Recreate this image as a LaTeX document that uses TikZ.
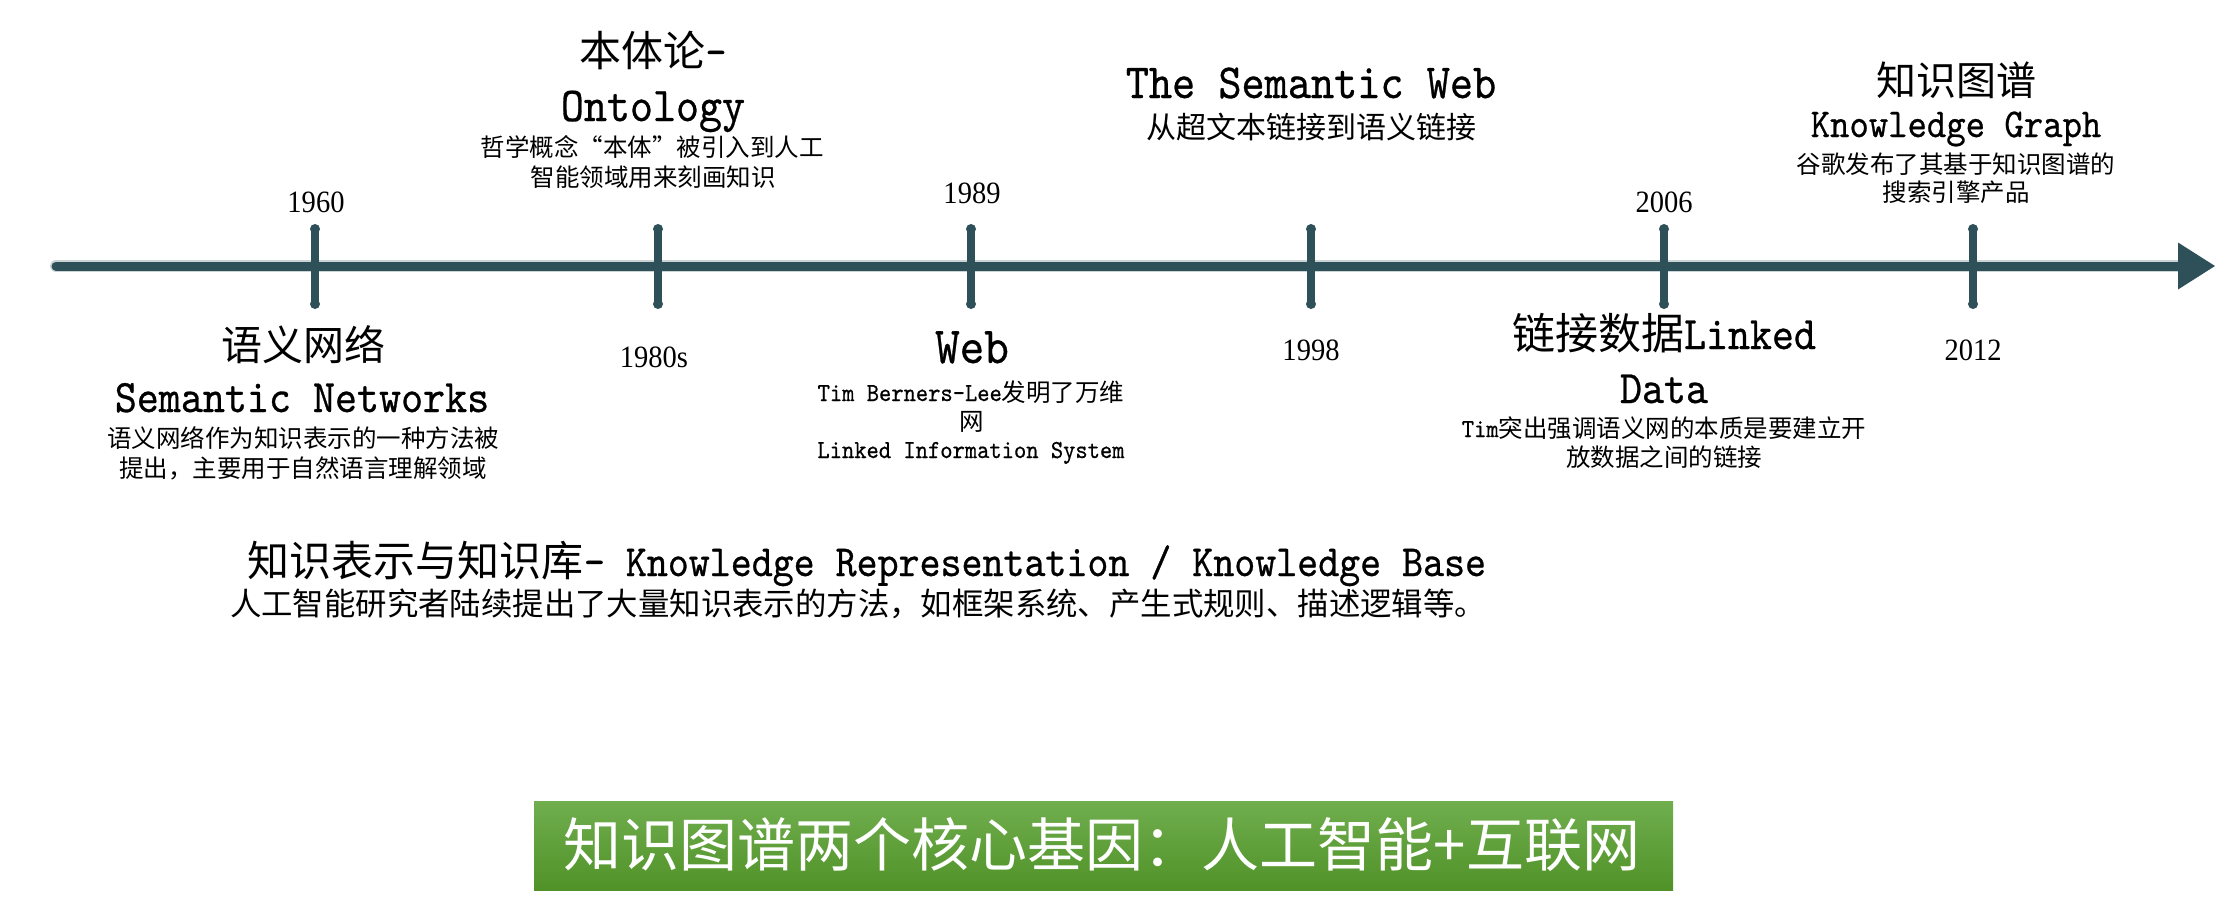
\documentclass[tikz,border=0pt]{standalone}
\usepackage{fontspec}
\newfontfamily\cjk{Noto Sans CJK SC}
\newfontfamily\lat[FakeStretch=0.9,FakeBold=0.6]{lmmono10-regular.otf}
\newfontfamily\yrf[FakeStretch=0.92]{Liberation Serif}
\newcommand\fsz[1]{\fontsize{#1pt}{#1pt}\selectfont}
\definecolor{tl}{RGB}{46,80,89}
\definecolor{gtop}{RGB}{112,174,78}
\definecolor{gbot}{RGB}{80,146,40}
\begin{document}
\begin{tikzpicture}[x=1pt,y=-1pt,
  lbl/.style={anchor=base,inner sep=0pt,outer sep=0pt,text=black},
  yr/.style={lbl,font=\yrf\fsz{31}},
  tick/.style={draw=tl,line width=8pt,line cap=round},
  knob/.style={fill=tl},
  axis/.style={draw=tl,line width=9pt,line cap=round},
  axissoft/.style={draw=tl,line width=12pt,line cap=round,opacity=0.25},
  gbox/.style={inner sep=0pt,minimum width=1139pt,minimum height=89pt,top color=gtop,bottom color=gbot,draw=none}]
\useasboundingbox (0,0) rectangle (2230,906);
% axis
\coordinate (tlstart) at (56,266);
\coordinate (tlbase) at (2178,266);
\coordinate (tlend) at (2215,266);
\draw[axissoft] (tlstart) -- (tlbase);
\draw[axis] (tlstart) -- (tlbase);
\fill[tl] (tlend) -- ([yshift=-23.5pt]tlbase) -- ([yshift=23.5pt]tlbase) -- cycle;
% ticks
\foreach \n/\x in {a/315,b/658,c/971,d/1311,e/1664,f/1973}{
  \coordinate (\n top) at (\x,229);
  \coordinate (\n bot) at (\x,304);
  \draw[tick] (\n top) -- (\n bot);
  \fill[knob] (\n top) circle (5pt);
  \fill[knob] (\n bot) circle (5pt);
}
% years
\node[yr] (y1960) at (316,212) {1960};
\node[yr] (y1980) at (654,367) {1980s};
\node[yr] (y1989) at (972,203) {1989};
\node[yr] (y1998) at (1311,360) {1998};
\node[yr] (y2006) at (1664,212) {2006};
\node[yr] (y2012) at (1973,360) {2012};
% 1960
\node[lbl] (sn1) at (303,360) {\cjk\fsz{41}语义网络};
\node[lbl] (sn2) at (302,412) {\lat\fsz{46.6}Semantic Networks};
\node[lbl] (sn3) at (303,447) {\cjk\fsz{24.5}语义网络作为知识表示的一种方法被};
\node[lbl] (sn4) at (303,477) {\cjk\fsz{24.5}提出，主要用于自然语言理解领域};
% 1980s
\node[lbl] (on1) at (653,66) {{\cjk\fsz{42}本体论}{\lat\fsz{44.4}-}};
\node[lbl] (on2) at (653,121) {\lat\fsz{48.7}Ontology};
\node[lbl] (on3) at (652,156) {\cjk\fsz{24.5}哲学概念“本体”被引入到人工};
\node[lbl] (on4) at (653,186) {\cjk\fsz{24.5}智能领域用来刻画知识};
% 1989
\node[lbl] (wb1) at (972,363) {\lat\fsz{52}Web};
\node[lbl] (wb2) at (971,401) {{\lat\fsz{26}Tim Berners-Lee}{\cjk\fsz{24.5}发明了万维}};
\node[lbl] (wb3) at (972,430) {\cjk\fsz{24.5}网};
\node[lbl] (wb4) at (971,458) {\lat\fsz{26}Linked Information System};
% 1998
\node[lbl] (sw1) at (1311,98) {\lat\fsz{49}The Semantic Web};
\node[lbl] (sw2) at (1311,138) {\cjk\fsz{30}从超文本链接到语义链接};
% 2006
\node[lbl] (ld1) at (1664,349) {{\cjk\fsz{43}链接数据}{\lat\fsz{46.5}Linked}};
\node[lbl] (ld2) at (1664,403) {\lat\fsz{46.5}Data};
\node[lbl] (ld3) at (1664,437) {{\lat\fsz{26}Tim}{\cjk\fsz{24.5}突出强调语义网的本质是要建立开}};
\node[lbl] (ld4) at (1664,466) {\cjk\fsz{24.5}放数据之间的链接};
% 2012
\node[lbl] (kg1) at (1956,95) {\cjk\fsz{40}知识图谱};
\node[lbl] (kg2) at (1956,137) {\lat\fsz{41}Knowledge Graph};
\node[lbl] (kg3) at (1956,173) {\cjk\fsz{24.5}谷歌发布了其基于知识图谱的};
\node[lbl] (kg4) at (1956,201) {\cjk\fsz{24.5}搜索引擎产品};
% knowledge representation
\node[lbl] (kr1) at (867,576) {{\cjk\fsz{42}知识表示与知识库}{\lat\fsz{44.4}- Knowledge Representation / Knowledge Base}};
\node[lbl] (kr2) at (858,615) {\cjk\fsz{31.4}人工智能研究者陆续提出了大量知识表示的方法，如框架系统、产生式规则、描述逻辑等。};
% green banner
\node[gbox] (gb) at (1103.5,845.5) {};
\node[lbl,text=white] (gbt) at (1102,866) {\cjk\fsz{58}知识图谱两个核心基因：人工智能+互联网};
\end{tikzpicture}
\end{document}
